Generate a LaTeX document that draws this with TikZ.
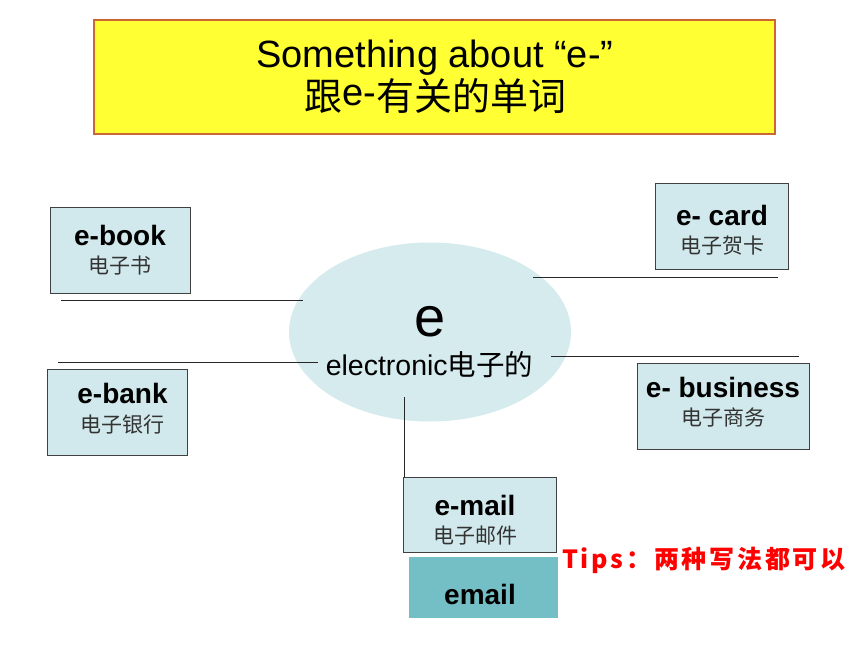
\documentclass[tikz,border=0pt]{standalone}
\usepackage{fontspec}
\setmainfont{Liberation Sans}
\newfontfamily\cjk{Noto Sans CJK SC}
\newfontfamily\tipsfont[LetterSpace=11]{Noto Sans CJK SC}
\usetikzlibrary{shapes.geometric}
\definecolor{boxfill}{HTML}{D1E9EC}
\definecolor{ellfill}{HTML}{D5EBEE}
\definecolor{boxline}{HTML}{404040}
\definecolor{titlefill}{HTML}{FFFF33}
\definecolor{titleline}{HTML}{CC6633}
\definecolor{tealfill}{HTML}{74BFC5}
\definecolor{zhgrey}{HTML}{333333}
\newcommand{\lowzh}[1]{\raisebox{-5pt}{\cjk #1}}
\tikzset{
  wordbox/.style={draw=boxline, line width=1pt, fill=boxfill, rectangle, inner sep=0pt},
  enword/.style={anchor=base, inner sep=0pt, font=\fontsize{28}{30}\selectfont\bfseries},
  zhword/.style={anchor=base, inner sep=0pt, text=zhgrey, font=\cjk\fontsize{21}{23}\selectfont},
  link/.style={draw=black!85, line width=0.9pt},
}
\begin{document}
\begin{tikzpicture}[x=1pt,y=-1pt]
\useasboundingbox[fill=white] (0,0) rectangle (860,645);
% title
\node[draw=titleline, line width=1.5pt, fill=titlefill, minimum width=681pt, minimum height=114pt, inner sep=0pt] (title) at (434.5,77) {};
\node[anchor=base, inner sep=0pt, font=\fontsize{38}{40}\selectfont] (t1) at (435,67) {Something about “e-”};
\node[anchor=base, inner sep=0pt, font=\fontsize{38}{40}\selectfont] (t2) at (435.5,105) {\lowzh{跟}e-\lowzh{有关的单词}};
% centre
\node[ellipse, fill=ellfill, minimum width=282pt, minimum height=179pt, inner sep=0pt] (core) at (430,332) {};
\node[anchor=base, inner sep=0pt, font=\fontsize{56}{58}\selectfont] (ce) at (430,336) {e};
\node[anchor=base, inner sep=0pt, font=\fontsize{28.5}{30}\selectfont] (cel) at (429.5,375) {electronic{\cjk 电子的}};
% connectors
\coordinate (a1) at (61,300); \coordinate (a2) at (303,300);
\coordinate (b1) at (58,362); \coordinate (b2) at (318,362);
\coordinate (c1) at (533,277); \coordinate (c2) at (778,277);
\coordinate (d1) at (551,356); \coordinate (d2) at (799,356);
\coordinate (m1) at (404,397); \coordinate (m2) at (404,550);
\draw[link] (a1) -- (a2);
\draw[link] (b1) -- (b2);
\draw[link] (c1) -- (c2);
\draw[link] (d1) -- (d2);
\draw[link] (m1) -- (m2);
% boxes
\node[wordbox, minimum width=140pt, minimum height=86pt] (ebook) at (120,250) {};
\node[enword] at (120,245) {e-book};
\node[zhword] at (120,273) {电子书};
\node[wordbox, minimum width=140pt, minimum height=86pt] (ebank) at (117,412) {};
\node[enword] at (122.5,403) {e-bank};
\node[zhword] at (122.5,432) {电子银行};
\node[wordbox, minimum width=133pt, minimum height=86pt] (ecard) at (721.5,226) {};
\node[enword] at (722,225) {e- card};
\node[zhword] at (722,253) {电子贺卡};
\node[wordbox, minimum width=172pt, minimum height=86pt] (ebus) at (723,406) {};
\node[enword] at (723,397) {e- business};
\node[zhword] at (723,425) {电子商务};
\node[wordbox, minimum width=153pt, minimum height=75pt] (email) at (479.5,514.5) {};
\node[enword] at (475,515) {e-mail};
\node[zhword] at (475.5,543) {电子邮件};
\node[fill=tealfill, minimum width=149pt, minimum height=61pt, inner sep=0pt] (email2) at (483.5,587.5) {};
\node[enword] at (480,604) {email};
% tips
\node[anchor=base west, inner sep=0pt, text=red, font=\tipsfont\bfseries\fontsize{25}{27}\selectfont] (tips) at (562,568) {Tips：两种写法都可以};
\end{tikzpicture}
\end{document}
